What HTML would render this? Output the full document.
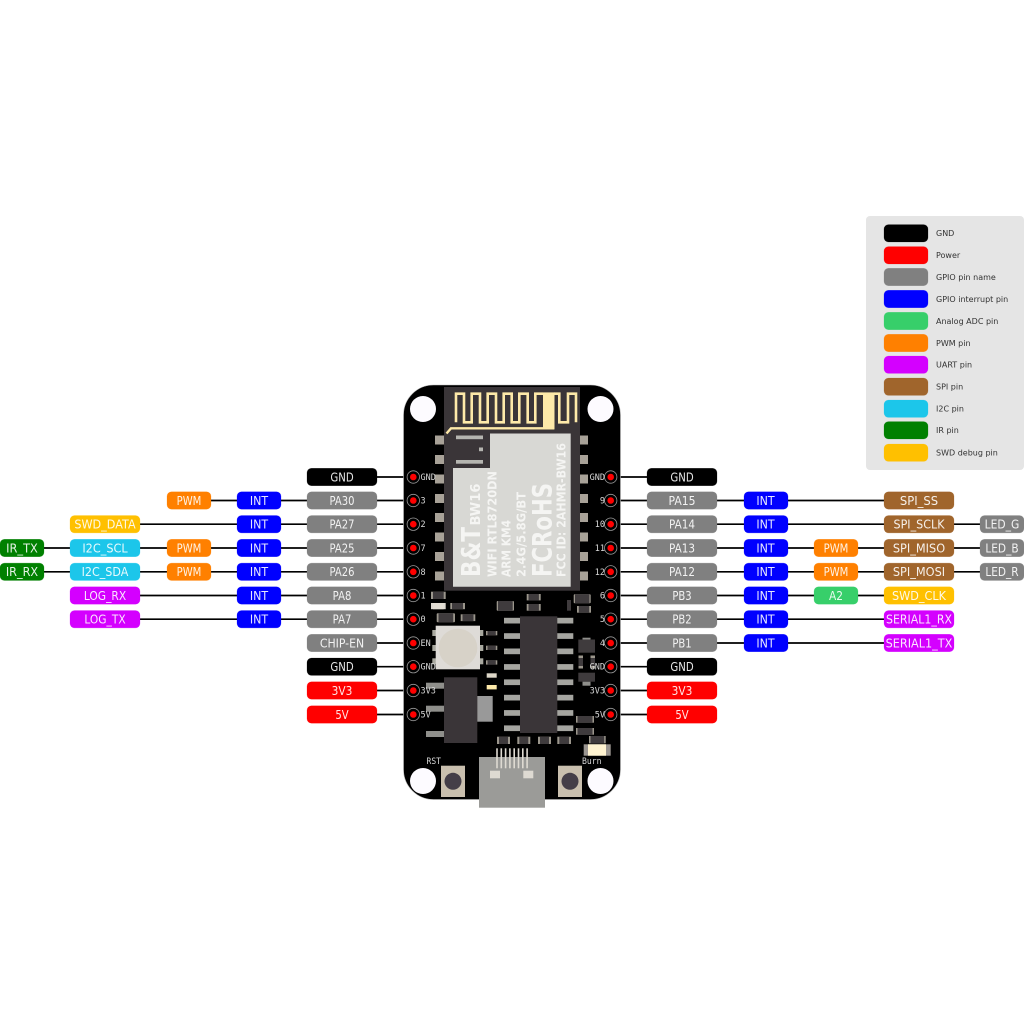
<!DOCTYPE html>
<html>
<head>
<meta charset="utf-8">
<style>
html,body{margin:0;padding:0;background:#fff}
svg{display:block}
.b{height:17.4px;y:-8.7px;rx:4.5px;ry:4.5px;stroke-width:.6;stroke-opacity:.35}
.rows text{font:12px "DejaVu Sans",sans-serif;fill:#fff;text-anchor:middle;fill-opacity:.9}
.rows line{stroke:#000;stroke-width:1.7}
.k{fill:#000;stroke:#000}.r{fill:#f00;stroke:#f00}.g{fill:#808080;stroke:#808080}.i{fill:#00f;stroke:#00f}
.a{fill:#37cf6a;stroke:#37cf6a}.o{fill:#ff8000;stroke:#ff8000}.u{fill:#d400ff;stroke:#d400ff}.s{fill:#a0652c;stroke:#a0652c}
.c{fill:#1cc6ea;stroke:#1cc6ea}.n{fill:#008000;stroke:#008000}.y{fill:#ffc000;stroke:#ffc000}
.leg text{font:8px "DejaVu Sans",sans-serif;fill:#333}
.pad{fill:#a8a298}
.pin{fill:#a5a5a0}
.d{fill:#3f3b3d}
.e{fill:#9b968c}
.pl{font:8.5px "DejaVu Sans Mono",monospace;fill:#d8d8d8}
.mt{font-family:"DejaVu Sans",sans-serif;font-weight:bold;fill:#f5f5f3}
.hole{fill:#fdfbff}
.pc{fill:#000;stroke:#999;stroke-width:.8}
.pr{fill:#f00}
</style>
</head>
<body>
<svg xmlns="http://www.w3.org/2000/svg" width="1024" height="1024" viewBox="0 0 1024 1024">
<rect width="1024" height="1024" fill="#fff"/>

<!-- Legend -->
<g class="leg">
<rect x="866" y="216" width="158" height="254" rx="4" fill="#e5e5e5"/>
<g transform="translate(0,233.3)"><rect class="b k" x="884" width="44"/><text x="936" y="2.9">GND</text></g>
<g transform="translate(0,255.3)"><rect class="b r" x="884" width="44"/><text x="936" y="2.9">Power</text></g>
<g transform="translate(0,277)"><rect class="b g" x="884" width="44"/><text x="936" y="2.9">GPIO pin name</text></g>
<g transform="translate(0,299)"><rect class="b i" x="884" width="44"/><text x="936" y="2.9">GPIO interrupt pin</text></g>
<g transform="translate(0,321)"><rect class="b a" x="884" width="44"/><text x="936" y="2.9">Analog ADC pin</text></g>
<g transform="translate(0,343)"><rect class="b o" x="884" width="44"/><text x="936" y="2.9">PWM pin</text></g>
<g transform="translate(0,364.7)"><rect class="b u" x="884" width="44"/><text x="936" y="2.9">UART pin</text></g>
<g transform="translate(0,386.7)"><rect class="b s" x="884" width="44"/><text x="936" y="2.9">SPI pin</text></g>
<g transform="translate(0,408.7)"><rect class="b c" x="884" width="44"/><text x="936" y="2.9">I2C pin</text></g>
<g transform="translate(0,430.3)"><rect class="b n" x="884" width="44"/><text x="936" y="2.9">IR pin</text></g>
<g transform="translate(0,452.7)"><rect class="b y" x="884" width="44"/><text x="936" y="2.9">SWD debug pin</text></g>
</g>

<!-- Connector lines and labels -->
<g class="rows">
<g transform="translate(0,477)">
<line x1="350" x2="410" y1="0" y2="0"/><line x1="614" x2="680" y1="0" y2="0"/>
<rect class="b k" x="307" width="70"/><text x="342" y="4.3" textLength="23.3" lengthAdjust="spacingAndGlyphs">GND</text>
<rect class="b k" x="647" width="70"/><text x="682" y="4.3" textLength="23.3" lengthAdjust="spacingAndGlyphs">GND</text>
</g>
<g transform="translate(0,500.5)">
<line x1="190" x2="410" y1="0" y2="0"/><line x1="614" x2="900" y1="0" y2="0"/>
<rect class="b o" x="167" width="44"/><text x="189" y="4.3" textLength="24.7" lengthAdjust="spacingAndGlyphs">PWM</text>
<rect class="b i" x="237" width="44"/><text x="259" y="4.3" textLength="18.3" lengthAdjust="spacingAndGlyphs">INT</text>
<rect class="b g" x="307" width="70"/><text x="342" y="4.3" textLength="25" lengthAdjust="spacingAndGlyphs">PA30</text>
<rect class="b g" x="647" width="70"/><text x="682" y="4.3" textLength="27" lengthAdjust="spacingAndGlyphs">PA15</text>
<rect class="b i" x="744" width="44"/><text x="765.5" y="4.3" textLength="18.3" lengthAdjust="spacingAndGlyphs">INT</text>
<rect class="b s" x="884" width="70"/><text x="919" y="4.3" textLength="38.3" lengthAdjust="spacingAndGlyphs">SPI_SS</text>
</g>
<g transform="translate(0,524.2)">
<line x1="100" x2="410" y1="0" y2="0"/><line x1="614" x2="1000" y1="0" y2="0"/>
<rect class="b y" x="70" width="70"/><text x="105" y="4.3" textLength="61.3" lengthAdjust="spacingAndGlyphs">SWD_DATA</text>
<rect class="b i" x="237" width="44"/><text x="259" y="4.3" textLength="18.3" lengthAdjust="spacingAndGlyphs">INT</text>
<rect class="b g" x="307" width="70"/><text x="342" y="4.3" textLength="25" lengthAdjust="spacingAndGlyphs">PA27</text>
<rect class="b g" x="647" width="70"/><text x="682" y="4.3" textLength="26" lengthAdjust="spacingAndGlyphs">PA14</text>
<rect class="b i" x="744" width="44"/><text x="765.5" y="4.3" textLength="18.3" lengthAdjust="spacingAndGlyphs">INT</text>
<rect class="b s" x="884" width="70"/><text x="919" y="4.3" textLength="51" lengthAdjust="spacingAndGlyphs">SPI_SCLK</text>
<rect class="b g" x="980" width="44"/><text x="1002" y="4.3" textLength="34.7" lengthAdjust="spacingAndGlyphs">LED_G</text>
</g>
<g transform="translate(0,548)">
<line x1="20" x2="410" y1="0" y2="0"/><line x1="614" x2="1000" y1="0" y2="0"/>
<rect class="b n" x="0" width="44"/><text x="22" y="4.3" textLength="31.7" lengthAdjust="spacingAndGlyphs">IR_TX</text>
<rect class="b c" x="70" width="70"/><text x="105" y="4.3" textLength="45.3" lengthAdjust="spacingAndGlyphs">I2C_SCL</text>
<rect class="b o" x="167" width="44"/><text x="189" y="4.3" textLength="24.7" lengthAdjust="spacingAndGlyphs">PWM</text>
<rect class="b i" x="237" width="44"/><text x="259" y="4.3" textLength="18.3" lengthAdjust="spacingAndGlyphs">INT</text>
<rect class="b g" x="307" width="70"/><text x="342" y="4.3" textLength="25" lengthAdjust="spacingAndGlyphs">PA25</text>
<rect class="b g" x="647" width="70"/><text x="682" y="4.3" textLength="26" lengthAdjust="spacingAndGlyphs">PA13</text>
<rect class="b i" x="744" width="44"/><text x="765.5" y="4.3" textLength="18.3" lengthAdjust="spacingAndGlyphs">INT</text>
<rect class="b o" x="814" width="44"/><text x="836" y="4.3" textLength="24.7" lengthAdjust="spacingAndGlyphs">PWM</text>
<rect class="b s" x="884" width="70"/><text x="919" y="4.3" textLength="52.3" lengthAdjust="spacingAndGlyphs">SPI_MISO</text>
<rect class="b g" x="980" width="44"/><text x="1002" y="4.3" textLength="33.3" lengthAdjust="spacingAndGlyphs">LED_B</text>
</g>
<g transform="translate(0,571.8)">
<line x1="20" x2="410" y1="0" y2="0"/><line x1="614" x2="1000" y1="0" y2="0"/>
<rect class="b n" x="0" width="44"/><text x="22" y="4.3" textLength="32.3" lengthAdjust="spacingAndGlyphs">IR_RX</text>
<rect class="b c" x="70" width="70"/><text x="105" y="4.3" textLength="46.7" lengthAdjust="spacingAndGlyphs">I2C_SDA</text>
<rect class="b o" x="167" width="44"/><text x="189" y="4.3" textLength="24.7" lengthAdjust="spacingAndGlyphs">PWM</text>
<rect class="b i" x="237" width="44"/><text x="259" y="4.3" textLength="18.3" lengthAdjust="spacingAndGlyphs">INT</text>
<rect class="b g" x="307" width="70"/><text x="342" y="4.3" textLength="25" lengthAdjust="spacingAndGlyphs">PA26</text>
<rect class="b g" x="647" width="70"/><text x="682" y="4.3" textLength="26" lengthAdjust="spacingAndGlyphs">PA12</text>
<rect class="b i" x="744" width="44"/><text x="765.5" y="4.3" textLength="18.3" lengthAdjust="spacingAndGlyphs">INT</text>
<rect class="b o" x="814" width="44"/><text x="836" y="4.3" textLength="24.7" lengthAdjust="spacingAndGlyphs">PWM</text>
<rect class="b s" x="884" width="70"/><text x="919" y="4.3" textLength="52.3" lengthAdjust="spacingAndGlyphs">SPI_MOSI</text>
<rect class="b g" x="980" width="44"/><text x="1002" y="4.3" textLength="33.3" lengthAdjust="spacingAndGlyphs">LED_R</text>
</g>
<g transform="translate(0,595.5)">
<line x1="100" x2="410" y1="0" y2="0"/><line x1="614" x2="900" y1="0" y2="0"/>
<rect class="b u" x="70" width="70"/><text x="105" y="4.3" textLength="42.3" lengthAdjust="spacingAndGlyphs">LOG_RX</text>
<rect class="b i" x="237" width="44"/><text x="259" y="4.3" textLength="18.3" lengthAdjust="spacingAndGlyphs">INT</text>
<rect class="b g" x="307" width="70"/><text x="342" y="4.3" textLength="18.7" lengthAdjust="spacingAndGlyphs">PA8</text>
<rect class="b g" x="647" width="70"/><text x="682" y="4.3" textLength="19.3" lengthAdjust="spacingAndGlyphs">PB3</text>
<rect class="b i" x="744" width="44"/><text x="765.5" y="4.3" textLength="18.3" lengthAdjust="spacingAndGlyphs">INT</text>
<rect class="b a" x="814" width="44"/><text x="836" y="4.3" textLength="14" lengthAdjust="spacingAndGlyphs">A2</text>
<rect class="b y" x="884" width="70"/><text x="919" y="4.3" textLength="54" lengthAdjust="spacingAndGlyphs">SWD_CLK</text>
</g>
<g transform="translate(0,619.2)">
<line x1="100" x2="410" y1="0" y2="0"/><line x1="614" x2="900" y1="0" y2="0"/>
<rect class="b u" x="70" width="70"/><text x="105" y="4.3" textLength="41.3" lengthAdjust="spacingAndGlyphs">LOG_TX</text>
<rect class="b i" x="237" width="44"/><text x="259" y="4.3" textLength="18.3" lengthAdjust="spacingAndGlyphs">INT</text>
<rect class="b g" x="307" width="70"/><text x="342" y="4.3" textLength="18.7" lengthAdjust="spacingAndGlyphs">PA7</text>
<rect class="b g" x="647" width="70"/><text x="682" y="4.3" textLength="19.3" lengthAdjust="spacingAndGlyphs">PB2</text>
<rect class="b i" x="744" width="44"/><text x="765.5" y="4.3" textLength="18.3" lengthAdjust="spacingAndGlyphs">INT</text>
<rect class="b u" x="884" width="70"/><text x="919" y="4.3" textLength="66" lengthAdjust="spacingAndGlyphs">SERIAL1_RX</text>
</g>
<g transform="translate(0,643)">
<line x1="350" x2="410" y1="0" y2="0"/><line x1="614" x2="900" y1="0" y2="0"/>
<rect class="b g" x="307" width="70"/><text x="342" y="4.3" textLength="44.3" lengthAdjust="spacingAndGlyphs">CHIP-EN</text>
<rect class="b g" x="647" width="70"/><text x="682" y="4.3" textLength="19.3" lengthAdjust="spacingAndGlyphs">PB1</text>
<rect class="b i" x="744" width="44"/><text x="765.5" y="4.3" textLength="18.3" lengthAdjust="spacingAndGlyphs">INT</text>
<rect class="b u" x="884" width="70"/><text x="919" y="4.3" textLength="66.7" lengthAdjust="spacingAndGlyphs">SERIAL1_TX</text>
</g>
<g transform="translate(0,666.7)">
<line x1="350" x2="410" y1="0" y2="0"/><line x1="614" x2="680" y1="0" y2="0"/>
<rect class="b k" x="307" width="70"/><text x="342" y="4.3" textLength="23.3" lengthAdjust="spacingAndGlyphs">GND</text>
<rect class="b k" x="647" width="70"/><text x="682" y="4.3" textLength="23.3" lengthAdjust="spacingAndGlyphs">GND</text>
</g>
<g transform="translate(0,690.5)">
<line x1="350" x2="410" y1="0" y2="0"/><line x1="614" x2="680" y1="0" y2="0"/>
<rect class="b r" x="307" width="70"/><text x="342" y="4.3" textLength="20.7" lengthAdjust="spacingAndGlyphs">3V3</text>
<rect class="b r" x="647" width="70"/><text x="682" y="4.3" textLength="20.7" lengthAdjust="spacingAndGlyphs">3V3</text>
</g>
<g transform="translate(0,714.5)">
<line x1="350" x2="410" y1="0" y2="0"/><line x1="614" x2="680" y1="0" y2="0"/>
<rect class="b r" x="307" width="70"/><text x="342" y="4.3" textLength="13.3" lengthAdjust="spacingAndGlyphs">5V</text>
<rect class="b r" x="647" width="70"/><text x="682" y="4.3" textLength="13.3" lengthAdjust="spacingAndGlyphs">5V</text>
</g>
</g>

<!-- Board -->
<rect x="403.5" y="385" width="217" height="414.5" rx="30" fill="#000" stroke="#bbb" stroke-width=".6"/>
<circle class="hole" cx="423" cy="409" r="13"/>
<circle class="hole" cx="600.5" cy="409" r="13"/>
<circle class="hole" cx="423" cy="781" r="13"/>
<circle class="hole" cx="600.5" cy="781" r="13"/>

<!-- Module pads -->
<g class="pad">
<rect x="435" y="435.5" width="10" height="9"/><rect x="435" y="455" width="10" height="9"/><rect x="435" y="474.5" width="10" height="9"/><rect x="435" y="494" width="10" height="9"/><rect x="435" y="513" width="10" height="9"/><rect x="435" y="532.5" width="10" height="9"/><rect x="435" y="552" width="10" height="9"/><rect x="435" y="571.5" width="10" height="9"/>
<rect x="579" y="435.5" width="9" height="9"/><rect x="579" y="455" width="9" height="9"/><rect x="579" y="474.5" width="9" height="9"/><rect x="579" y="494" width="9" height="9"/><rect x="579" y="513" width="9" height="9"/><rect x="579" y="532.5" width="9" height="9"/><rect x="579" y="552" width="9" height="9"/><rect x="579" y="571.5" width="9" height="9"/>
</g>

<!-- Module -->
<rect x="444" y="387" width="136" height="203.7" fill="#3a3538"/>
<path d="M456 422.3V393.7H464V422.3H471.7V393.7H480V422.3H487.7V393.7H496V422.3H503.7V393.7H511.7V422.3H519.3V393.7H527.7V422.3H535.3V393.7H543M554 393.7H559.3V422.3H568V393.7H576V422.3" fill="none" stroke="#fde9a9" stroke-width="2.6"/>
<rect x="543" y="392.4" width="11.5" height="37" fill="#fde9a9"/>
<path d="M446.5 433.5L451 428.3H554" fill="none" stroke="#fde9a9" stroke-width="2.4"/>
<polygon points="453,468 490,468 490,433.5 570.7,433.5 570.7,586.7 453,586.7" fill="#d8d8d4"/>
<rect x="456" y="435.5" width="27" height="3.7" fill="#b5b5b0"/>
<rect x="456" y="460" width="27" height="3.7" fill="#b5b5b0"/>
<rect x="479" y="447.5" width="4" height="3.7" fill="#b5b5b0"/>

<g class="mt">
<text transform="translate(480,577) rotate(-90)" font-size="26" textLength="50" lengthAdjust="spacingAndGlyphs">B&amp;T</text>
<text transform="translate(480,525.5) rotate(-90)" font-size="13.5" textLength="42" lengthAdjust="spacingAndGlyphs">BW16</text>
<text transform="translate(496.5,577) rotate(-90)" font-size="12" textLength="106" lengthAdjust="spacingAndGlyphs">WIFI RTL8720DN</text>
<text transform="translate(510.7,577) rotate(-90)" font-size="12" textLength="57" lengthAdjust="spacingAndGlyphs">ARM KM4</text>
<text transform="translate(525.3,577) rotate(-90)" font-size="12" textLength="85" lengthAdjust="spacingAndGlyphs">2.4G/5.8G/BT</text>
<text transform="translate(551.7,577) rotate(-90)" font-size="27" textLength="94" lengthAdjust="spacingAndGlyphs">FCRoHS</text>
<text transform="translate(565.7,577) rotate(-90)" font-size="12" textLength="134" lengthAdjust="spacingAndGlyphs">FCC ID: 2AHMR-BW16</text>
</g>

<!-- Small parts upper -->
<rect class="e" x="431" y="591.7" width="14.7" height="7.3"/><rect class="d" x="433" y="591.7" width="10.7" height="7.3"/>
<rect x="431" y="603" width="14.7" height="6.2" fill="#ddd8cf"/><rect x="433" y="603" width="10.7" height="6.2" fill="#e2ddd3"/>
<rect class="e" x="450.3" y="603" width="14.7" height="6.2"/><rect class="d" x="452" y="603" width="11" height="6.2"/>
<rect class="e" x="436.7" y="613.3" width="18.3" height="9" rx="1"/><rect class="d" x="438.5" y="613.3" width="14.7" height="9"/>
<rect class="e" x="460.7" y="614.3" width="14.6" height="6.8"/><rect class="d" x="462.5" y="614.3" width="11" height="6.8"/>
<rect class="e" x="496.7" y="601" width="17.3" height="9.7" rx="1"/><rect class="d" x="498" y="601" width="14.7" height="9.7"/>
<rect class="e" x="526.7" y="594" width="14" height="6.4"/><rect class="d" x="528.5" y="594" width="10.4" height="6.4"/>
<rect class="e" x="526.7" y="604" width="14" height="6.7"/><rect class="d" x="528.5" y="604" width="10.4" height="6.7"/>
<rect class="d" x="567" y="600" width="4" height="10.7"/>
<rect class="e" x="573.7" y="594.3" width="17" height="9" rx="1"/><rect class="d" x="575" y="594.3" width="14.4" height="9"/>
<rect class="e" x="577" y="606" width="14" height="6.7"/><rect class="d" x="578.8" y="606" width="10.4" height="6.7"/>

<!-- RGB LED -->
<g fill="#a8a89f">
<rect x="432.3" y="630" width="4" height="6"/><rect x="432.3" y="645" width="4" height="6"/><rect x="432.3" y="658.3" width="4" height="6"/>
<rect x="479.7" y="630" width="3.6" height="6"/><rect x="479.7" y="645" width="3.6" height="6"/><rect x="479.7" y="658.3" width="3.6" height="6"/>
</g>
<rect x="435.7" y="625.7" width="44.3" height="43.6" fill="#dedbd7"/>
<circle cx="458" cy="648" r="19.3" fill="#d7d2c8"/>
<rect class="e" x="486" y="631" width="11.3" height="4.3"/><rect class="d" x="487.5" y="631" width="8.3" height="4.3"/>
<rect class="e" x="486" y="645.7" width="11.3" height="4.3"/><rect class="d" x="487.5" y="645.7" width="8.3" height="4.3"/>
<rect class="e" x="486" y="660.3" width="11.3" height="4.3"/><rect class="d" x="487.5" y="660.3" width="8.3" height="4.3"/>
<rect x="486.7" y="673.3" width="10" height="4.4" fill="#ddd7c8"/>
<rect x="486.7" y="685" width="10" height="4.4" fill="#fde9a9"/>

<!-- Regulator -->
<g class="pin" style="fill:#8f8f8b">
<rect x="426" y="682.7" width="18" height="6"/><rect x="426" y="705.7" width="18" height="6"/><rect x="426" y="731" width="18" height="6"/>
</g>
<rect x="444" y="677.3" width="33.3" height="65.7" fill="#3a3538"/>
<rect x="477.3" y="696" width="15.4" height="25.7" fill="#999"/>

<!-- IC -->
<g class="pin">
<rect x="504" y="617.8" width="69.3" height="5.7"/><rect x="504" y="633.2" width="69.3" height="5.7"/><rect x="504" y="648.5" width="69.3" height="5.7"/><rect x="504" y="664.1" width="69.3" height="5.7"/><rect x="504" y="679.4" width="69.3" height="5.7"/><rect x="504" y="694.8" width="69.3" height="5.7"/><rect x="504" y="710.1" width="69.3" height="5.7"/><rect x="504" y="725.4" width="69.3" height="5.7"/>
</g>
<rect x="520" y="616.3" width="37.3" height="116.7" fill="#3a3538"/>

<!-- Right transistor group -->
<rect x="582.5" y="637.7" width="8" height="3" fill="#8f8f8b"/>
<rect x="578.3" y="639.5" width="16.7" height="13.2" fill="#3f3b3d"/>
<rect x="578.3" y="672.7" width="16.7" height="9" fill="#3f3b3d"/>
<rect x="582.5" y="681.7" width="8" height="4" fill="#8f8f8b"/>
<rect class="e" x="578.5" y="655.5" width="4.5" height="13"/><rect class="d" x="578.5" y="658" width="4.5" height="8"/>
<rect class="e" x="590.5" y="655.5" width="4.5" height="13"/><rect class="d" x="590.5" y="658" width="4.5" height="8"/>

<!-- Bottom parts -->
<rect class="e" x="576" y="716" width="18" height="6.7"/><rect class="d" x="577.5" y="716" width="15" height="6.7"/>
<rect class="e" x="576" y="728" width="18" height="6.7"/><rect class="d" x="577.5" y="728" width="15" height="6.7"/>
<rect class="e" x="589" y="736" width="16.7" height="7.3"/><rect class="d" x="590.5" y="736" width="13.7" height="7.3"/>
<rect class="e" x="497" y="736.7" width="13" height="7.3"/><rect class="d" x="499" y="736.7" width="9" height="7.3"/>
<rect class="e" x="517.3" y="736.7" width="13" height="7.3"/><rect class="d" x="519.3" y="736.7" width="9" height="7.3"/>
<rect class="e" x="538" y="736.7" width="13" height="7.3"/><rect class="d" x="540" y="736.7" width="9" height="7.3"/>
<rect class="e" x="557.3" y="736.7" width="13.7" height="7.3"/><rect class="d" x="559.3" y="736.7" width="9.7" height="7.3"/>
<rect x="583.7" y="744.3" width="27" height="11.4" fill="#9a9590"/>
<rect x="588" y="744.3" width="18" height="11.4" fill="#fff3d0"/>

<!-- USB -->
<rect x="479" y="757" width="66" height="50.7" fill="#9b9b98"/>
<g fill="#dedad2">
<rect x="496.2" y="748.3" width="1.6" height="20"/><rect x="500.5" y="748.3" width="1.6" height="20"/><rect x="504.8" y="748.3" width="1.6" height="20"/><rect x="509.1" y="748.3" width="1.6" height="20"/><rect x="513.4" y="748.3" width="1.6" height="20"/><rect x="517.7" y="748.3" width="1.6" height="20"/><rect x="522" y="748.3" width="1.6" height="20"/><rect x="526.3" y="748.3" width="1.6" height="20"/>
<rect x="490" y="770.7" width="10" height="7.6"/><rect x="523.3" y="770.7" width="10" height="7.6"/>
</g>

<!-- Buttons -->
<rect x="441" y="765.7" width="24" height="31.3" fill="#c9bfae"/>
<circle cx="453" cy="781.3" r="8.5" fill="#443e48"/>
<rect x="558" y="765.7" width="24" height="31.3" fill="#c9bfae"/>
<circle cx="570" cy="781.3" r="8.5" fill="#443e48"/>

<text class="pl" x="426.5" y="764" textLength="14.5" lengthAdjust="spacingAndGlyphs">RST</text>
<text class="pl" x="582" y="764" textLength="19.5" lengthAdjust="spacingAndGlyphs">Burn</text>

<!-- Header pins left -->
<g>
<circle class="pc" cx="413.3" cy="477" r="6.2"/><circle class="pr" cx="413.3" cy="477" r="3.3"/>
<circle class="pc" cx="413.3" cy="500.5" r="6.2"/><circle class="pr" cx="413.3" cy="500.5" r="3.3"/>
<circle class="pc" cx="413.3" cy="524.2" r="6.2"/><circle class="pr" cx="413.3" cy="524.2" r="3.3"/>
<circle class="pc" cx="413.3" cy="548" r="6.2"/><circle class="pr" cx="413.3" cy="548" r="3.3"/>
<circle class="pc" cx="413.3" cy="571.8" r="6.2"/><circle class="pr" cx="413.3" cy="571.8" r="3.3"/>
<circle class="pc" cx="413.3" cy="595.5" r="6.2"/><circle class="pr" cx="413.3" cy="595.5" r="3.3"/>
<circle class="pc" cx="413.3" cy="619.2" r="6.2"/><circle class="pr" cx="413.3" cy="619.2" r="3.3"/>
<circle class="pc" cx="413.3" cy="643" r="6.2"/><circle class="pr" cx="413.3" cy="643" r="3.3"/>
<circle class="pc" cx="413.3" cy="666.7" r="6.2"/><circle class="pr" cx="413.3" cy="666.7" r="3.3"/>
<circle class="pc" cx="413.3" cy="690.5" r="6.2"/><circle class="pr" cx="413.3" cy="690.5" r="3.3"/>
<circle class="pc" cx="413.3" cy="714.5" r="6.2"/><circle class="pr" cx="413.3" cy="714.5" r="3.3"/>
</g>
<!-- Header pins right -->
<g>
<circle class="pc" cx="610.7" cy="477" r="6.2"/><circle class="pr" cx="610.7" cy="477" r="3.3"/>
<circle class="pc" cx="610.7" cy="500.5" r="6.2"/><circle class="pr" cx="610.7" cy="500.5" r="3.3"/>
<circle class="pc" cx="610.7" cy="524.2" r="6.2"/><circle class="pr" cx="610.7" cy="524.2" r="3.3"/>
<circle class="pc" cx="610.7" cy="548" r="6.2"/><circle class="pr" cx="610.7" cy="548" r="3.3"/>
<circle class="pc" cx="610.7" cy="571.8" r="6.2"/><circle class="pr" cx="610.7" cy="571.8" r="3.3"/>
<circle class="pc" cx="610.7" cy="595.5" r="6.2"/><circle class="pr" cx="610.7" cy="595.5" r="3.3"/>
<circle class="pc" cx="610.7" cy="619.2" r="6.2"/><circle class="pr" cx="610.7" cy="619.2" r="3.3"/>
<circle class="pc" cx="610.7" cy="643" r="6.2"/><circle class="pr" cx="610.7" cy="643" r="3.3"/>
<circle class="pc" cx="610.7" cy="666.7" r="6.2"/><circle class="pr" cx="610.7" cy="666.7" r="3.3"/>
<circle class="pc" cx="610.7" cy="690.5" r="6.2"/><circle class="pr" cx="610.7" cy="690.5" r="3.3"/>
<circle class="pc" cx="610.7" cy="714.5" r="6.2"/><circle class="pr" cx="610.7" cy="714.5" r="3.3"/>
</g>

<!-- Pin labels -->
<g class="pl">
<text x="420.5" y="480">GND</text>
<text x="420.5" y="503.5">3</text>
<text x="420.5" y="527.2">2</text>
<text x="420.5" y="551">7</text>
<text x="420.5" y="574.8">8</text>
<text x="420.5" y="598.5">1</text>
<text x="420.5" y="622.2">0</text>
<text x="420.5" y="646">EN</text>
<text x="420.5" y="669.7">GND</text>
<text x="420.5" y="693.5">3V3</text>
<text x="420.5" y="717.5">5V</text>
</g>
<g class="pl" text-anchor="end">
<text x="605" y="480">GND</text>
<text x="605" y="503.5">9</text>
<text x="605" y="527.2">10</text>
<text x="605" y="551">11</text>
<text x="605" y="574.8">12</text>
<text x="605" y="598.5">6</text>
<text x="605" y="622.2">5</text>
<text x="605" y="646">4</text>
<text x="605" y="669.7">GND</text>
<text x="605" y="693.5">3V3</text>
<text x="605" y="717.5">5V</text>
</g>
</svg>
</body>
</html>
